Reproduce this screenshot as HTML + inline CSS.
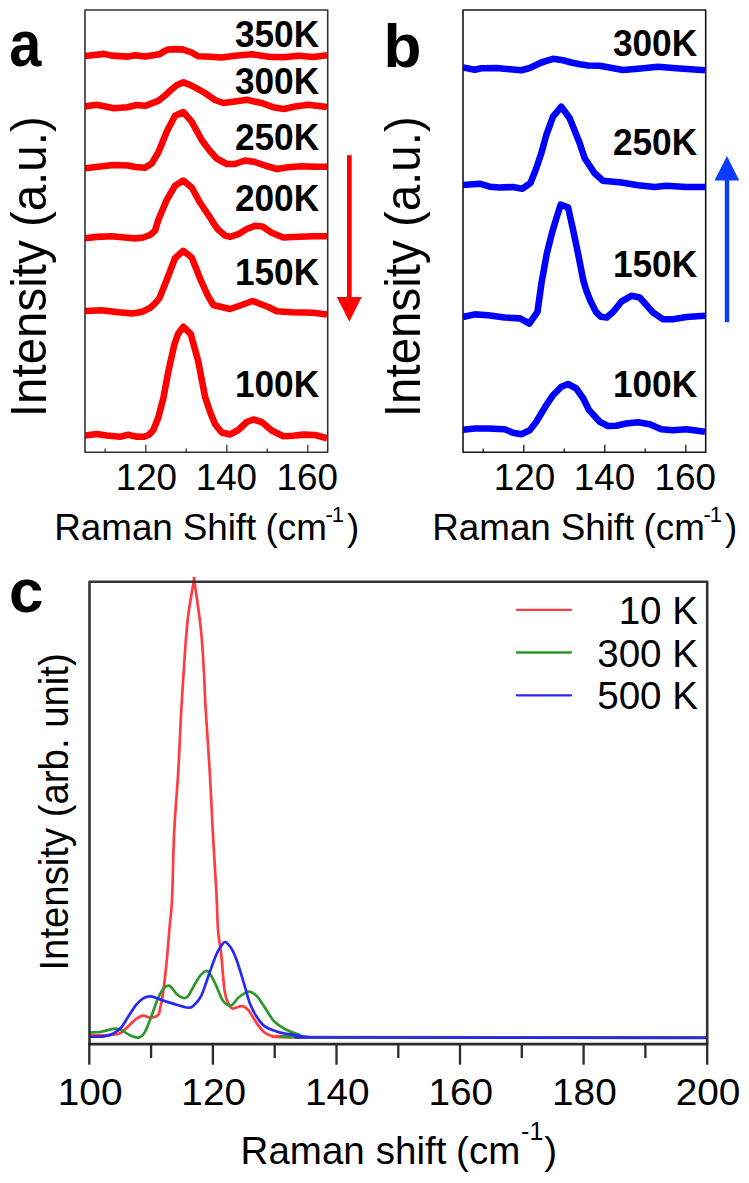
<!DOCTYPE html><html><head><meta charset="utf-8"><style>html,body{margin:0;padding:0;background:#fff;}svg{display:block;}text{font-family:"Liberation Sans", sans-serif;fill:#000;}</style></head><body>
<svg width="749" height="1183" viewBox="0 0 749 1183">
<rect width="749" height="1183" fill="#fff"/>
<clipPath id="clip85"><rect x="85" y="10" width="242.7" height="442.2"/></clipPath>
<g clip-path="url(#clip85)">
<polyline points="85.0,56.0 104.0,53.9 111.7,55.6 128.3,56.6 135.0,55.2 145.0,56.6 155.0,55.0 160.0,54.0 164.0,51.2 168.0,49.6 175.0,49.1 183.3,49.6 191.7,52.5 198.3,56.3 210.0,56.7 221.7,57.5 235.0,55.8 252.0,54.2 268.3,56.7 283.3,57.2 298.3,55.8 313.3,57.0 327.0,55.3" fill="none" stroke="#ff0000" stroke-width="6.6" stroke-linejoin="round" stroke-linecap="butt"/>
<polyline points="85.0,106.4 96.7,104.8 114.0,108.2 127.5,107.3 136.5,105.0 145.0,105.8 158.3,100.8 165.0,95.5 171.0,90.0 177.0,85.0 183.3,82.4 190.0,84.8 196.7,88.3 205.0,93.0 210.0,96.5 215.0,100.0 223.3,103.0 235.0,101.5 247.0,99.8 261.7,103.0 273.0,107.2 284.0,109.0 295.0,106.5 308.3,104.7 327.0,107.0" fill="none" stroke="#ff0000" stroke-width="6.6" stroke-linejoin="round" stroke-linecap="butt"/>
<polyline points="85.0,168.3 98.3,166.8 113.3,165.0 128.3,165.5 135.0,167.0 145.0,167.8 151.7,163.5 158.3,152.5 166.7,131.7 175.0,115.8 183.3,112.0 191.7,121.7 201.7,140.0 205.0,144.5 210.0,151.0 216.7,158.5 226.7,164.0 235.0,164.0 245.0,160.5 255.0,162.0 265.0,165.5 276.7,169.0 288.3,167.3 301.7,166.3 315.0,166.8 327.0,166.7" fill="none" stroke="#ff0000" stroke-width="6.6" stroke-linejoin="round" stroke-linecap="butt"/>
<polyline points="85.0,238.3 96.7,236.9 111.7,236.2 125.0,237.5 135.0,238.4 143.3,237.5 150.0,235.0 155.0,230.7 158.3,220.0 166.7,200.0 175.0,185.8 183.3,180.5 191.7,187.5 200.0,202.5 205.0,210.0 210.0,217.4 214.0,224.0 218.0,229.5 225.0,235.6 230.0,236.8 238.3,234.2 246.7,229.0 255.0,225.8 262.5,226.5 271.7,232.8 283.3,237.5 298.3,236.7 313.3,236.3 327.0,236.3" fill="none" stroke="#ff0000" stroke-width="6.6" stroke-linejoin="round" stroke-linecap="butt"/>
<polyline points="85.0,311.0 101.7,310.2 118.3,312.2 131.7,313.4 141.7,312.0 150.0,308.0 155.0,303.5 159.5,298.0 166.7,280.0 175.0,258.3 183.3,250.8 191.7,257.5 200.0,278.3 205.0,289.5 208.0,296.0 213.3,305.0 230.0,309.0 241.7,305.0 252.5,301.0 268.3,307.0 276.7,311.3 291.7,312.2 313.3,312.8 327.0,314.5" fill="none" stroke="#ff0000" stroke-width="6.6" stroke-linejoin="round" stroke-linecap="butt"/>
<polyline points="85.0,435.5 96.7,434.0 106.7,435.5 120.0,436.8 128.3,434.8 136.0,436.6 144.0,436.8 149.0,434.8 153.4,430.0 158.3,417.5 163.3,398.3 168.3,371.7 174.2,345.0 178.0,334.0 183.3,326.7 190.8,334.2 198.3,361.7 205.0,396.7 210.0,411.7 215.0,424.0 221.7,432.5 230.0,434.5 238.3,430.0 246.7,422.0 253.3,419.5 261.7,422.0 271.7,430.5 283.3,436.2 293.3,435.8 303.3,434.6 315.0,435.0 327.0,438.3" fill="none" stroke="#ff0000" stroke-width="6.6" stroke-linejoin="round" stroke-linecap="butt"/>
</g>
<rect x="85" y="10" width="242.7" height="442.2" fill="none" stroke="#333" stroke-width="1.6" stroke-linejoin="round"/>
<line x1="105.2" y1="448.4" x2="105.2" y2="452.2" stroke="#333" stroke-width="1.3"/>
<line x1="145.8" y1="444.7" x2="145.8" y2="452.2" stroke="#333" stroke-width="1.3"/>
<line x1="186.2" y1="448.4" x2="186.2" y2="452.2" stroke="#333" stroke-width="1.3"/>
<line x1="226.8" y1="444.7" x2="226.8" y2="452.2" stroke="#333" stroke-width="1.3"/>
<line x1="267.2" y1="448.4" x2="267.2" y2="452.2" stroke="#333" stroke-width="1.3"/>
<line x1="307.8" y1="444.7" x2="307.8" y2="452.2" stroke="#333" stroke-width="1.3"/>
<text x="146.4" y="490.3" font-size="36.8" text-anchor="middle">120</text>
<text x="226.4" y="490.3" font-size="36.8" text-anchor="middle">140</text>
<text x="307.2" y="490.3" font-size="36.8" text-anchor="middle">160</text>
<text transform="translate(319.2,46.9) scale(0.985,1.04)" font-size="35.8" font-weight="bold" text-anchor="end">350K</text>
<text transform="translate(319.2,94.2) scale(0.985,1.04)" font-size="35.8" font-weight="bold" text-anchor="end">300K</text>
<text transform="translate(319.2,150) scale(0.985,1.04)" font-size="35.8" font-weight="bold" text-anchor="end">250K</text>
<text transform="translate(319.2,210.8) scale(0.985,1.04)" font-size="35.8" font-weight="bold" text-anchor="end">200K</text>
<text transform="translate(319.2,285) scale(0.985,1.04)" font-size="35.8" font-weight="bold" text-anchor="end">150K</text>
<text transform="translate(319.2,396.7) scale(0.985,1.04)" font-size="35.8" font-weight="bold" text-anchor="end">100K</text>
<clipPath id="clip463"><rect x="463" y="10" width="242.7" height="442.2"/></clipPath>
<g clip-path="url(#clip463)">
<polyline points="463.0,67.5 474.7,69.7 481.3,68.3 496.3,68.0 509.7,69.2 521.3,70.3 529.7,68.0 541.3,62.5 553.0,58.8 563.0,60.3 571.3,62.5 579.7,64.2 588.0,65.5 599.7,65.8 623.0,70.0 638.0,68.7 658.0,66.7 676.3,68.3 705.0,70.3" fill="none" stroke="#0000ff" stroke-width="6.6" stroke-linejoin="round" stroke-linecap="butt"/>
<polyline points="463.0,185.0 479.7,183.7 489.7,186.7 499.7,187.5 513.0,187.0 522.2,188.7 530.5,183.0 536.3,168.3 541.3,153.3 546.3,135.0 553.0,116.7 561.3,106.7 569.7,118.3 579.7,143.3 584.7,158.3 588.0,163.3 594.7,173.3 603.0,180.8 621.3,182.5 638.0,185.3 654.7,187.0 666.3,185.8 686.3,187.0 705.0,187.0" fill="none" stroke="#0000ff" stroke-width="6.6" stroke-linejoin="round" stroke-linecap="butt"/>
<polyline points="463.0,317.0 474.7,314.4 488.0,315.3 504.7,317.5 520.0,318.4 529.3,323.5 537.4,312.2 541.4,283.5 546.7,254.1 552.0,232.7 556.0,219.4 560.7,204.7 568.1,207.4 573.4,231.4 578.7,256.8 583.4,280.8 586.5,291.0 590.5,301.0 596.0,312.0 601.0,316.8 606.8,317.5 613.5,311.5 621.3,301.7 631.3,295.8 639.7,297.5 653.0,312.5 663.0,319.2 673.0,319.2 686.3,317.0 705.0,315.8" fill="none" stroke="#0000ff" stroke-width="6.6" stroke-linejoin="round" stroke-linecap="butt"/>
<polyline points="463.0,429.7 474.7,428.5 488.0,428.5 504.7,429.3 513.0,432.7 521.3,434.3 529.7,430.2 536.3,421.8 544.7,407.7 553.0,395.2 561.3,386.8 568.0,384.0 576.3,388.5 583.0,398.0 589.0,410.0 599.7,421.8 608.0,426.0 616.3,425.7 626.3,423.5 638.0,422.3 649.7,424.3 661.3,429.3 673.0,430.2 686.3,429.3 705.0,431.8" fill="none" stroke="#0000ff" stroke-width="6.6" stroke-linejoin="round" stroke-linecap="butt"/>
</g>
<rect x="463" y="10" width="242.7" height="442.2" fill="none" stroke="#161616" stroke-width="1.6" stroke-linejoin="round"/>
<line x1="483.2" y1="448.4" x2="483.2" y2="452.2" stroke="#161616" stroke-width="1.3"/>
<line x1="523.8" y1="444.7" x2="523.8" y2="452.2" stroke="#161616" stroke-width="1.3"/>
<line x1="564.2" y1="448.4" x2="564.2" y2="452.2" stroke="#161616" stroke-width="1.3"/>
<line x1="604.8" y1="444.7" x2="604.8" y2="452.2" stroke="#161616" stroke-width="1.3"/>
<line x1="645.2" y1="448.4" x2="645.2" y2="452.2" stroke="#161616" stroke-width="1.3"/>
<line x1="685.8" y1="444.7" x2="685.8" y2="452.2" stroke="#161616" stroke-width="1.3"/>
<text x="524.5" y="490.3" font-size="36.8" text-anchor="middle">120</text>
<text x="604.5" y="490.3" font-size="36.8" text-anchor="middle">140</text>
<text x="685.2" y="490.3" font-size="36.8" text-anchor="middle">160</text>
<text transform="translate(697.2,56.1) scale(0.985,1.04)" font-size="35.8" font-weight="bold" text-anchor="end">300K</text>
<text transform="translate(697.2,155) scale(0.985,1.04)" font-size="35.8" font-weight="bold" text-anchor="end">250K</text>
<text transform="translate(697.2,276.7) scale(0.985,1.04)" font-size="35.8" font-weight="bold" text-anchor="end">150K</text>
<text transform="translate(697.2,396.7) scale(0.985,1.04)" font-size="35.8" font-weight="bold" text-anchor="end">100K</text>
<text transform="translate(9.3,65.9) scale(0.9,1)" font-size="64" font-weight="bold">a</text>
<text x="383.5" y="66.8" font-size="62" font-weight="bold">b</text>
<text x="9" y="612.2" font-size="62" font-weight="bold">c</text>
<text transform="translate(46.2,266.7) rotate(-90) scale(0.95,1)" font-size="50" text-anchor="middle">Intensity (a.u.)</text>
<text transform="translate(420.4,266.7) rotate(-90) scale(0.95,1)" font-size="50" text-anchor="middle">Intensity (a.u.)</text>
<text x="54.2" y="540" font-size="36.8">Raman</text><text x="182.7" y="540" font-size="36.8">Shift</text><text x="265.5" y="540" font-size="36.8">(cm</text><text x="325.4" y="521.6" font-size="22">-</text><text x="331.8" y="521.6" font-size="22">1</text><text x="347.0" y="540" font-size="36.8">)</text>
<text x="432.2" y="540" font-size="36.8">Raman</text><text x="560.7" y="540" font-size="36.8">Shift</text><text x="643.5" y="540" font-size="36.8">(cm</text><text x="703.4" y="521.6" font-size="22">-</text><text x="709.8" y="521.6" font-size="22">1</text><text x="725.0" y="540" font-size="36.8">)</text>
<rect x="347" y="155.2" width="4.7" height="145" fill="#ff0000"/>
<polygon points="336.8,296.9 361.7,296.9 349.3,321.7" fill="#ff0000"/>
<rect x="724.8" y="178" width="4.4" height="144.2" fill="#0a3cff"/>
<polygon points="714.5,180.4 739.3,180.4 726.9,156.1" fill="#0a3cff"/>
<clipPath id="clipc"><rect x="89.3" y="577" width="617.9" height="467"/></clipPath>
<g clip-path="url(#clipc)">
<path d="M89.0,1035.3 C91.5,1035.3 99.0,1035.5 104.0,1035.3 C109.0,1035.0 115.2,1035.0 118.9,1033.8 C122.6,1032.6 123.6,1030.3 126.4,1027.9 C129.2,1025.5 132.9,1021.4 135.7,1019.4 C138.5,1017.4 140.7,1016.0 143.2,1015.7 C145.7,1015.4 148.2,1017.8 150.7,1017.6 C153.2,1017.5 156.5,1016.7 158.2,1014.8 C159.8,1012.9 160.0,1008.5 160.6,1006.0 C161.2,1003.5 161.3,1004.3 162.0,1000.0 C162.7,995.7 163.8,987.8 164.7,980.0 C165.6,972.2 166.6,962.3 167.4,953.4 C168.2,944.5 168.8,935.6 169.6,926.7 C170.4,917.8 171.2,915.8 172.0,900.0 C172.8,884.2 173.1,853.3 174.2,831.8 C175.2,810.3 177.1,791.2 178.3,770.9 C179.5,750.6 180.1,730.8 181.3,710.0 C182.5,689.2 184.2,662.0 185.4,646.0 C186.6,630.0 187.0,625.2 188.4,614.0 C189.8,602.8 193.2,584.8 194.1,579.0 C195.0,573.2 193.0,570.8 194.1,579.0 C195.2,587.2 199.2,613.2 200.8,628.3 C202.4,643.4 203.0,656.1 203.8,669.7 C204.6,683.3 204.7,693.1 205.7,710.0 C206.7,726.9 208.5,750.7 209.7,771.0 C210.9,791.3 211.7,811.5 212.8,831.8 C213.9,852.1 215.5,876.3 216.4,892.7 C217.3,909.1 217.2,919.8 218.0,930.0 C218.8,940.2 220.1,944.1 221.2,954.0 C222.3,963.9 223.3,981.3 224.4,989.3 C225.5,997.3 226.3,998.9 227.6,1002.1 C228.9,1005.3 230.0,1007.8 232.4,1008.5 C234.8,1009.2 239.3,1005.8 242.0,1006.1 C244.7,1006.4 246.0,1007.3 248.4,1010.1 C250.8,1012.9 253.8,1019.2 256.5,1022.9 C259.2,1026.6 261.6,1030.2 264.5,1032.5 C267.4,1034.8 269.8,1036.0 274.1,1036.5 C278.4,1037.0 284.8,1035.6 290.1,1035.7 C295.4,1035.8 236.6,1037.0 306.1,1037.3 C375.6,1037.6 640.2,1037.5 707.0,1037.5" fill="none" stroke="rgb(255,60,65)" stroke-width="2.7" stroke-linejoin="round"/>
<path d="M89.0,1032.5 C90.9,1032.4 96.2,1032.6 100.2,1032.0 C104.2,1031.4 109.9,1029.2 113.3,1028.8 C116.7,1028.4 118.0,1028.6 120.8,1029.7 C123.6,1030.8 127.1,1034.0 130.1,1035.3 C133.0,1036.6 136.0,1038.2 138.5,1037.6 C141.0,1037.0 142.8,1035.7 145.1,1031.6 C147.4,1027.5 150.4,1018.5 152.6,1012.9 C154.8,1007.3 156.3,1002.0 158.2,997.9 C160.1,993.8 161.9,990.2 163.8,988.2 C165.7,986.2 167.2,984.8 169.4,985.8 C171.6,986.8 174.6,992.2 176.9,994.2 C179.2,996.2 181.5,997.6 183.4,997.9 C185.3,998.2 186.1,998.6 188.1,996.1 C190.1,993.6 193.3,986.6 195.5,983.0 C197.7,979.4 199.2,976.6 201.1,974.6 C203.0,972.6 205.2,970.6 206.8,970.8 C208.5,970.9 209.4,973.0 211.0,975.5 C212.6,978.0 214.4,981.9 216.4,986.1 C218.4,990.3 220.4,997.2 222.8,1000.5 C225.2,1003.8 228.1,1006.1 230.8,1005.6 C233.5,1005.1 235.9,999.6 238.8,997.3 C241.7,995.0 245.5,992.0 248.4,991.7 C251.3,991.4 253.8,993.2 256.5,995.7 C259.2,998.2 261.6,1002.6 264.5,1006.9 C267.4,1011.2 270.6,1017.6 274.1,1021.3 C277.6,1025.0 281.0,1027.0 285.3,1029.3 C289.6,1031.6 294.9,1033.6 299.7,1034.9 C304.5,1036.2 246.2,1036.6 314.1,1037.0 C382.0,1037.4 641.5,1037.4 707.0,1037.5" fill="none" stroke="rgb(45,150,45)" stroke-width="2.7" stroke-linejoin="round"/>
<path d="M89.0,1036.8 C91.5,1036.7 100.0,1036.8 104.0,1036.3 C108.0,1035.8 110.5,1034.9 113.3,1033.5 C116.1,1032.1 118.3,1030.7 120.8,1027.9 C123.3,1025.1 125.8,1020.4 128.3,1016.6 C130.8,1012.9 133.2,1008.5 135.7,1005.4 C138.2,1002.3 140.7,999.8 143.2,998.3 C145.7,996.8 147.9,996.2 150.7,996.4 C153.5,996.6 156.3,998.2 160.0,999.4 C163.7,1000.6 168.4,1002.2 173.1,1003.6 C177.8,1005.0 184.7,1007.4 188.1,1007.7 C191.5,1008.0 191.5,1007.3 193.7,1005.4 C195.9,1003.5 198.6,1001.1 201.1,996.1 C203.6,991.1 206.1,982.4 208.6,975.5 C211.1,968.6 214.0,959.9 216.1,955.0 C218.2,950.1 219.7,948.2 221.2,946.0 C222.7,943.8 223.6,941.7 225.2,942.0 C226.8,942.3 229.1,945.1 230.8,947.6 C232.5,950.1 234.0,953.2 235.6,957.2 C237.2,961.2 238.8,966.6 240.4,971.7 C242.0,976.8 243.6,982.4 245.2,987.7 C246.8,993.0 248.1,998.9 250.0,1003.7 C251.9,1008.5 254.1,1012.8 256.5,1016.5 C258.9,1020.2 261.0,1023.6 264.5,1026.1 C268.0,1028.6 272.5,1030.2 277.3,1031.7 C282.1,1033.2 288.0,1034.0 293.3,1034.9 C298.6,1035.8 303.2,1036.6 309.3,1037.0 C315.4,1037.4 263.7,1037.4 330.0,1037.5 C396.3,1037.6 644.2,1037.8 707.0,1037.8" fill="none" stroke="rgb(40,40,245)" stroke-width="2.7" stroke-linejoin="round"/>
</g>
<path d="M89.5,1044.1 V581.8 H707.2 V1044.1" fill="none" stroke="#333" stroke-width="2.6" stroke-linejoin="round"/>
<line x1="88" y1="1044.1" x2="708.3" y2="1044.1" stroke="#2a2a2a" stroke-width="2.8"/>
<line x1="89.3" y1="1044" x2="89.3" y2="1064.7" stroke="#2a2a2a" stroke-width="2.3"/>
<line x1="151.1" y1="1044" x2="151.1" y2="1058" stroke="#2a2a2a" stroke-width="2.3"/>
<line x1="212.9" y1="1044" x2="212.9" y2="1064.7" stroke="#2a2a2a" stroke-width="2.3"/>
<line x1="274.7" y1="1044" x2="274.7" y2="1058" stroke="#2a2a2a" stroke-width="2.3"/>
<line x1="336.5" y1="1044" x2="336.5" y2="1064.7" stroke="#2a2a2a" stroke-width="2.3"/>
<line x1="398.3" y1="1044" x2="398.3" y2="1058" stroke="#2a2a2a" stroke-width="2.3"/>
<line x1="460.0" y1="1044" x2="460.0" y2="1064.7" stroke="#2a2a2a" stroke-width="2.3"/>
<line x1="521.8" y1="1044" x2="521.8" y2="1058" stroke="#2a2a2a" stroke-width="2.3"/>
<line x1="583.6" y1="1044" x2="583.6" y2="1064.7" stroke="#2a2a2a" stroke-width="2.3"/>
<line x1="645.4" y1="1044" x2="645.4" y2="1058" stroke="#2a2a2a" stroke-width="2.3"/>
<line x1="707.2" y1="1044" x2="707.2" y2="1064.7" stroke="#2a2a2a" stroke-width="2.3"/>
<text transform="translate(90.1,1105.4) scale(1,0.965)" font-size="38.8" text-anchor="middle" fill="#111">100</text>
<text transform="translate(213.7,1105.4) scale(1,0.965)" font-size="38.8" text-anchor="middle" fill="#111">120</text>
<text transform="translate(337.3,1105.4) scale(1,0.965)" font-size="38.8" text-anchor="middle" fill="#111">140</text>
<text transform="translate(460.8,1105.4) scale(1,0.965)" font-size="38.8" text-anchor="middle" fill="#111">160</text>
<text transform="translate(584.4,1105.4) scale(1,0.965)" font-size="38.8" text-anchor="middle" fill="#111">180</text>
<text transform="translate(708.0,1105.4) scale(1,0.965)" font-size="38.8" text-anchor="middle" fill="#111">200</text>
<line x1="516.9" y1="609.8" x2="571.0" y2="609.8" stroke="rgb(255,60,65)" stroke-width="2.3" stroke-linecap="round"/>
<text x="698" y="624.2" font-size="38.6" text-anchor="end" fill="#111">10 K</text>
<line x1="516.9" y1="652.5" x2="571.0" y2="652.5" stroke="rgb(45,150,45)" stroke-width="2.3" stroke-linecap="round"/>
<text x="698" y="666.6" font-size="38.6" text-anchor="end" fill="#111">300 K</text>
<line x1="516.9" y1="695.3" x2="571.0" y2="695.3" stroke="rgb(40,40,245)" stroke-width="2.3" stroke-linecap="round"/>
<text x="698" y="709.0" font-size="38.6" text-anchor="end" fill="#111">500 K</text>
<text transform="translate(67.8,811.9) rotate(-90) scale(0.963,1)" font-size="39.8" text-anchor="middle" fill="#111">Intensity (arb. unit)</text>
<text x="240.6" y="1163.6" font-size="38.5">Raman</text><text x="375.8" y="1163.6" font-size="38.5">shift</text><text x="456.1" y="1163.6" font-size="38.5">(cm</text><text x="521.1" y="1139.9" font-size="25">-</text><text x="529.5" y="1139.9" font-size="25">1</text><text x="544.3" y="1163.6" font-size="38.5">)</text>
</svg></body></html>
